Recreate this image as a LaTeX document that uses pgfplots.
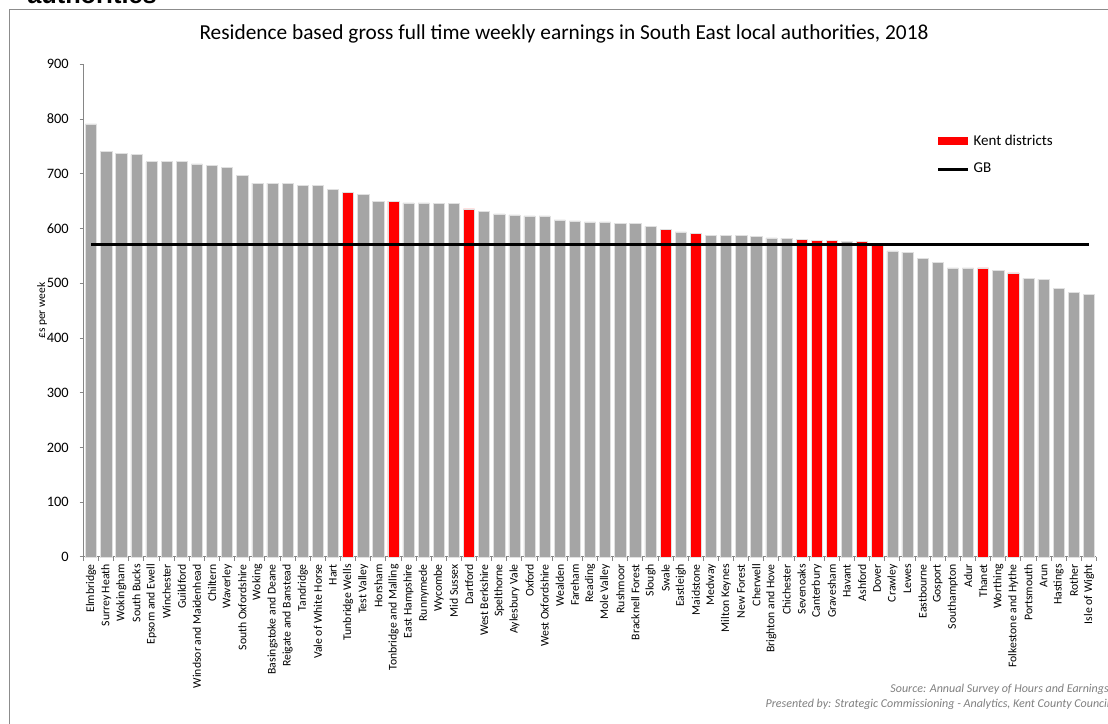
\documentclass[border=0pt]{standalone}
\usepackage{pgfplots}
\pgfplotsset{compat=1.18}
\usepackage{fontspec}
\setmainfont{Carlito}
\newfontfamily\arialfont{Liberation Sans}
\definecolor{barGrey}{HTML}{A5A5A5}
\definecolor{barRed}{HTML}{FF0000}
\definecolor{axGrey}{HTML}{868686}
\definecolor{srcGrey}{HTML}{7F7F7F}
\definecolor{frameGrey}{HTML}{8C8C8C}
\begin{document}
\begin{tikzpicture}
\useasboundingbox (0pt,0pt) rectangle (831pt,543pt);
\clip (0pt,0pt) rectangle (831pt,543pt);
\begin{scope}[x=0.75pt,y=-0.75pt,shift={(0pt,543pt)}]
\draw[frameGrey, line width=1.1pt] (9.5,760) -- (9.5,9.5) -- (1130,9.5);
\node[anchor=base west, inner sep=0pt, font=\arialfont\bfseries\fontsize{19}{22}\selectfont] at (27,4) {authorities};
\node[anchor=base, inner sep=0pt, font=\fontsize{16}{18}\selectfont] at (564,40) {Residence based gross full time weekly earnings in South East local authorities, 2018};
\node[anchor=base east, inner sep=0pt, text=srcGrey, font=\itshape\fontsize{9}{11}\selectfont] at (1109,693) {Source: Annual Survey of Hours and Earnings};
\node[anchor=base east, inner sep=0pt, text=srcGrey, font=\itshape\fontsize{9}{11}\selectfont] at (1110,708) {Presented by: Strategic Commissioning - Analytics, Kent County Council};
\end{scope}
\begin{axis}[
  at={(62.625pt,125.25pt)}, anchor=south west,
  scale only axis, width=759.75pt, height=369.5pt,
  xmin=-0.5, xmax=66.5, ymin=0, ymax=900,
  axis x line*=bottom, axis y line*=left,
  axis line style={axGrey, line width=0.75pt, -},
  ytick={0,100,...,900},
  minor ytick={0,100,...,900},
  xtick={0,...,66},
  minor xtick={-0.5,0.5,...,66.5},
  tick align=outside,
  major tick length=0pt, minor tick length=3pt,
  tick style={axGrey, line width=0.75pt},
  xticklabels={Elmbridge,Surrey Heath,Wokingham,South Bucks,Epsom and Ewell,Winchester,Guildford,Windsor and Maidenhead,Chiltern,Waverley,South Oxfordshire,Woking,Basingstoke and Deane,Reigate and Banstead,Tandridge,Vale of White Horse,Hart,Tunbridge Wells,Test Valley,Horsham,Tonbridge and Malling,East Hampshire,Runnymede,Wycombe,Mid Sussex,Dartford,West Berkshire,Spelthorne,Aylesbury Vale,Oxford,West Oxfordshire,Wealden,Fareham,Reading,Mole Valley,Rushmoor,Bracknell Forest,Slough,Swale,Eastleigh,Maidstone,Medway,Milton Keynes,New Forest,Cherwell,Brighton and Hove,Chichester,Sevenoaks,Canterbury,Gravesham,Havant,Ashford,Dover,Crawley,Lewes,Eastbourne,Gosport,Southampton,Adur,Thanet,Worthing,Folkestone and Hythe,Portsmouth,Arun,Hastings,Rother,Isle of Wight},
  xticklabel style={rotate=90, anchor=east, font=\fontsize{8.8}{10}\selectfont, inner ysep=0pt, inner xsep=5.25pt},
  yticklabel style={font=\fontsize{10.8}{12}\selectfont, inner sep=0pt, xshift=-10.9pt},
  /pgf/number format/assume math mode=true,
  ylabel={£s per week},
  ylabel style={font=\fontsize{8.6}{10}\selectfont, at={(axis description cs:-0.041,0.5)}, anchor=center},
  legend style={at={(0.842,0.8575)}, anchor=north west, draw=none, fill=none, inner sep=0pt,
     font=\fontsize{11.25}{13}\selectfont, row sep=12pt, column sep=3pt, nodes={inner sep=0pt}},
  legend cell align=left,
  clip=false,
]
\addplot[ybar, bar width=0.74, bar shift=0pt, fill=barGrey, draw=white!88!black, line width=0.4pt, forget plot] coordinates {
(0,791) (1,741) (2,737) (3,735) (4,722) (5,722) (6,722) (7,718) (8,716) (9,712)
(10,697) (11,683) (12,683) (13,683) (14,679) (15,679) (16,671) (18,662) (19,650)
(21,647) (22,647) (23,646) (24,646) (26,631) (27,627) (28,625) (29,623)
(30,623) (31,616) (32,614) (33,612) (34,612) (35,609) (36,609) (37,604) (39,594)
(41,588) (42,588) (43,588) (44,585) (45,583) (46,582) (50,576)
(53,559) (54,557) (55,546) (56,538) (57,528) (58,528) (60,524)
(62,509) (63,507) (64,490) (65,484) (66,480)
};
\addplot[ybar, bar width=0.74, bar shift=0pt, fill=barRed, draw=white!88!black, line width=0.4pt,
  legend image code/.code={\fill[barRed] (0pt,-2.625pt) rectangle (21.75pt,2.625pt);}] coordinates {
(17,666) (20,650) (25,636) (38,598) (40,591) (47,580) (48,578) (49,578) (51,576) (52,569) (59,528) (61,519)
};
\addlegendentry{Kent districts}
\addplot[black, line width=2.25pt, mark=none,
  legend image code/.code={\draw[black, line width=2.25pt] (0pt,0pt) -- (22.5pt,0pt);}] coordinates {(0,571) (66,571)};
\addlegendentry{GB}
\end{axis}
\end{tikzpicture}
\end{document}
